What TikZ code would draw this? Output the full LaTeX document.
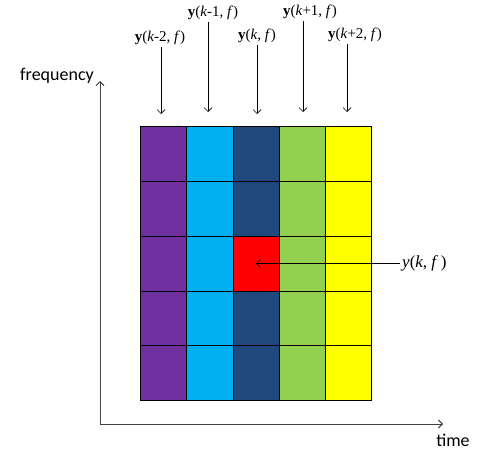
\documentclass[tikz,border=0pt]{standalone}
\usepackage{fontspec}
\usetikzlibrary{arrows.meta}
\setmainfont{Liberation Serif}
\newfontfamily\axisfont{Carlito}
\definecolor{cpurple}{HTML}{7030A0}
\definecolor{ccyan}{HTML}{00B0F0}
\definecolor{cnavy}{HTML}{1F497D}
\definecolor{cgreen}{HTML}{92D050}
\definecolor{cyellow}{HTML}{FFFF00}
\tikzset{
  framelbl/.style={font=\fontsize{15}{18}\selectfont,inner sep=2pt},
  axislbl/.style={font=\axisfont\fontsize{18}{21}\selectfont,inner sep=1pt},
  pointer/.style={-{Straight Barb[length=4pt,width=8pt]},line width=.7pt},
  cellline/.style={draw=black,line width=.5pt}
}

\begin{document}
\begin{tikzpicture}[x=1pt,y=-1pt]
\useasboundingbox (0,0) rectangle (478,455);
% axes
\coordinate (origin) at (100,424);
\coordinate (ftop) at (100,81);
\coordinate (tend) at (443,424);
\draw[pointer,black!75,line width=.9pt] (origin) -- (ftop);
\draw[pointer,black!75,line width=.9pt] (origin) -- (tend);
\node[axislbl] (freq) at (57,76) {frequency};
\node[axislbl] (time) at (453,440) {time};
% frame columns
\path[fill=cpurple,cellline] (140,126.7) rectangle (186.6,400);
\path[fill=ccyan,cellline] (186.6,126.7) rectangle (233,400);
\path[fill=cnavy,cellline] (233,126.7) rectangle (279,400);
\path[fill=cgreen,cellline] (279,126.7) rectangle (325,400);
\path[fill=cyellow,cellline] (325,126.7) rectangle (371.5,400);
\path[fill=red] (233,236.7) rectangle (279,291);
\draw[cellline] (140,181.7) -- (371.5,181.7);
\draw[cellline] (140,236.7) -- (371.5,236.7);
\draw[cellline] (140,291) -- (371.5,291);
\draw[cellline] (140,345.7) -- (371.5,345.7);
\draw[cellline] (233,236.7) -- (233,291);
\draw[cellline] (279,236.7) -- (279,291);
% frame labels
\node[framelbl] (ym2) at (160,38) {\textbf{y}(\textit{k}-2, \textit{f})};
\node[framelbl] (ym1) at (213,13) {\textbf{y}(\textit{k}-1, \textit{f})};
\node[framelbl] (y0) at (257,36) {\textbf{y}(\textit{k}, \textit{f})};
\node[framelbl] (yp1) at (310,12) {\textbf{y}(\textit{k}+1, \textit{f})};
\node[framelbl] (yp2) at (355,35) {\textbf{y}(\textit{k}+2, \textit{f})};
\coordinate (tm2) at (161,114);
\coordinate (tm1) at (208,112);
\coordinate (t0) at (257,114);
\coordinate (tp1) at (303,112);
\coordinate (tp2) at (347,112);
\draw[pointer] (ym2.south -| tm2) -- (tm2);
\draw[pointer] (ym1.south -| tm1) -- (tm1);
\draw[pointer] (y0.south -| t0) -- (t0);
\draw[pointer] (yp1.south -| tp1) -- (tp1);
\draw[pointer] (yp2.south -| tp2) -- (tp2);
% single bin
\coordinate (bin) at (256,263.5);
\node[framelbl,font=\fontsize{17}{20}\selectfont,anchor=west] (ybin) at (400,263.5) {\textit{y}(\textit{k}, \textit{f}\,)};
\draw[pointer] (ybin.west) -- (bin);
\end{tikzpicture}
\end{document}
